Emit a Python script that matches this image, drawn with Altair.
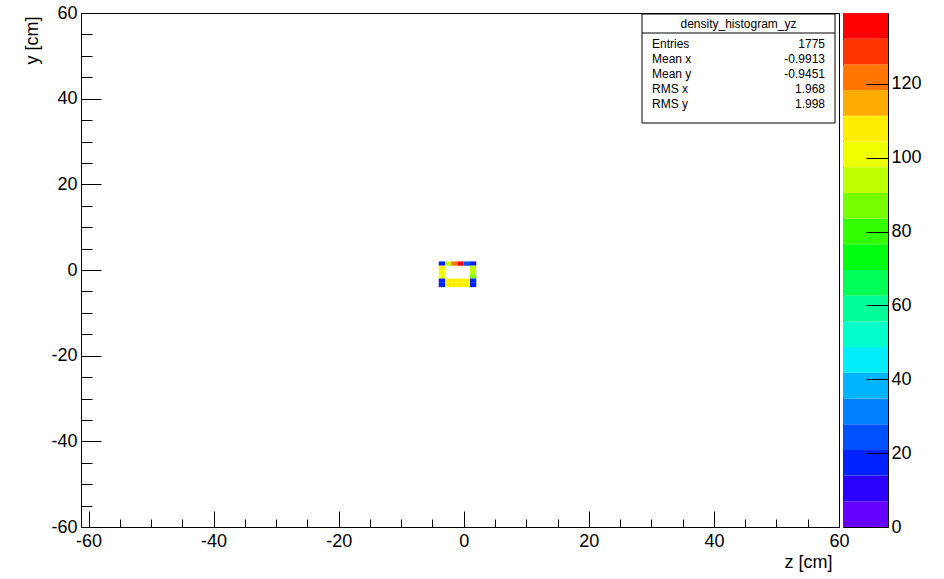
import altair as alt
import pandas as pd

# ---------------- data (1 cm bins that hold entries) ----------------
cell_z_lo = [-4, -3, -2, -1, 0, 1,
             -4, -4, -4,
             1, 1, 1,
             -4, -3, -2, -1, 0, 1,
             -4, -3, -2, -1, 0, 1]
cell_y_lo = [1, 1, 1, 1, 1, 1,
             0, -1, -2,
             0, -1, -2,
             -3, -3, -3, -3, -3, -3,
             -4, -4, -4, -4, -4, -4]
cell_count = [18, 95, 125, 139, 22, 15,
              106, 104, 100,
              92, 96, 90,
              15, 106, 107, 106, 105, 16,
              16, 105, 106, 107, 106, 15]

# colour levels of the z axis (20 contours from 0 to the maximum)
z_levels = [0, 6.96, 13.92, 20.88, 27.84, 34.8, 41.76, 48.72, 55.68, 62.64, 69.6,
            76.56, 83.52, 90.48, 97.44, 104.4, 111.36, 118.32, 125.28, 132.24, 139.2]
palette = ["#6600ff", "#2a00ff", "#0022ff", "#0050ff", "#0080ff", "#00b4ff",
           "#00eeff", "#00ffcc", "#00ff99", "#00ff55", "#00ff11", "#33ff00",
           "#77ff00", "#bbff00", "#eeff00", "#ffee00", "#ffaa00", "#ff7700",
           "#ff3300", "#ff0000"]

x_major = [-60, -40, -20, 0, 20, 40, 60]
x_minor = [-55, -50, -45, -35, -30, -25, -15, -10, -5, 5, 10, 15, 25, 30, 35, 45, 50, 55]
y_major = [-60, -40, -20, 0, 20, 40, 60]
y_minor = [-55, -50, -45, -35, -30, -25, -15, -10, -5, 5, 10, 15, 25, 30, 35, 45, 50, 55]
z_ticks = [0, 20, 40, 60, 80, 100, 120]

stats_title = "density_histogram_yz"
stats_names = ["Entries", "Mean x", "Mean y", "RMS x", "RMS y"]
stats_values = ["1775", "-0.9913", "-0.9451", "1.968", "1.998"]

# ---------------- tables ----------------
cells = pd.DataFrame({"z_lo": cell_z_lo, "y_lo": cell_y_lo, "count": cell_count})
cells["z_hi"] = cells["z_lo"] + 1
cells["y_hi"] = cells["y_lo"] + 1

bands = pd.DataFrame({"lo": z_levels[:-1], "hi": z_levels[1:]})

FONT = "Liberation Sans"
W, H = 758, 514
BAR_W = 45
HYPHEN = "datum.value < 0 ? '-' + abs(datum.value) : '' + datum.value"

xs = alt.Scale(domain=[-61.2, 60], nice=False, zero=False)
ys = alt.Scale(domain=[-60, 60], nice=False, zero=False)
color_scale = alt.Scale(type="threshold", domain=z_levels[1:-1], range=palette)

ax_common = dict(domain=False, grid=False, tickColor="black", tickWidth=1,
                 labelColor="black", labelFont=FONT, labelFontSize=18,
                 titleFont=FONT, titleFontSize=18, titleColor="black",
                 titleFontWeight="normal", labelFlush=False, labelOverlap=False,
                 labelExpr=HYPHEN)

x_major_axis = alt.Axis(values=x_major, tickSize=16, offset=-16, labelPadding=5,
                        orient="bottom", title="z [cm]", titleAnchor="end",
                        titleAlign="right", titleBaseline="middle",
                        titleX=751, titleY=51, **ax_common)
x_minor_axis = alt.Axis(values=x_minor, tickSize=8, offset=-8, labels=False,
                        orient="bottom", title=None, **ax_common)
y_major_axis = alt.Axis(values=y_major, tickSize=20, offset=-20, labelPadding=4,
                        orient="left", title="y [cm]", titleAngle=270,
                        titleAlign="right", titleBaseline="middle",
                        titleX=-69, titleY=3, **ax_common)
y_minor_axis = alt.Axis(values=y_minor, tickSize=11, offset=-11, labels=False,
                        orient="left", title=None, **ax_common)

heat = alt.Chart(cells).mark_rect().encode(
    x=alt.X("z_lo:Q", scale=xs, axis=x_major_axis),
    x2="z_hi:Q",
    y=alt.Y("y_lo:Q", scale=ys, axis=y_major_axis),
    y2="y_hi:Q",
    color=alt.Color("count:Q", scale=color_scale, legend=None),
)

minor = alt.Chart(cells).mark_point(opacity=0).encode(
    x=alt.X("z_lo:Q", scale=xs, axis=x_minor_axis),
    y=alt.Y("y_lo:Q", scale=ys, axis=y_minor_axis),
)

# stats box (ROOT style)
BX0, BX1, BY0, BY1 = 561, 754, 1, 110
box = alt.Chart(pd.DataFrame({"t": [stats_title]})).mark_rect(
    fill="white", stroke="black", strokeWidth=1
).encode(x=alt.value(BX0), x2=alt.value(BX1), y=alt.value(BY0), y2=alt.value(BY1))
sep = alt.Chart(pd.DataFrame({"t": [stats_title]})).mark_rule(
    color="black", strokeWidth=1
).encode(x=alt.value(BX0), x2=alt.value(BX1), y=alt.value(20))
title_txt = alt.Chart(pd.DataFrame({"t": [stats_title]})).mark_text(
    font=FONT, fontSize=12, color="black", align="center", baseline="middle"
).encode(text="t:N", x=alt.value((BX0 + BX1) / 2), y=alt.value(11))
names_txt = alt.Chart(pd.DataFrame({"t": ["\n".join(stats_names)]})).mark_text(
    font=FONT, fontSize=12, color="black", align="left", baseline="middle",
    lineBreak="\n", lineHeight=15
).encode(text="t:N", x=alt.value(571), y=alt.value(31))
vals_txt = alt.Chart(pd.DataFrame({"t": ["\n".join(stats_values)]})).mark_text(
    font=FONT, fontSize=12, color="black", align="right", baseline="middle",
    lineBreak="\n", lineHeight=15
).encode(text="t:N", x=alt.value(744), y=alt.value(31))

main = alt.layer(heat, minor, box, sep, title_txt, names_txt, vals_txt).resolve_axis(
    x="independent", y="independent"
).properties(width=W, height=H)

zbar = alt.Chart(bands).mark_rect().encode(
    x=alt.value(0), x2=alt.value(BAR_W),
    y=alt.Y("lo:Q", scale=alt.Scale(domain=[0, 139.2], nice=False, zero=False),
            axis=alt.Axis(values=z_ticks, tickSize=22, offset=-22, labelPadding=3,
                          orient="right", title=None, zindex=1, **ax_common)),
    y2="hi:Q",
    color=alt.Color("lo:Q", scale=color_scale, legend=None),
).properties(width=BAR_W, height=H)

chart = alt.hconcat(main, zbar, spacing=4, bounds="flush").properties(
    padding={"left": 22, "top": 3, "right": 5, "bottom": 5},
    background="white",
).configure_view(stroke="black", strokeWidth=1).resolve_scale(color="independent")

chart.save("out.html", embed_options={"renderer": "svg", "actions": False})
